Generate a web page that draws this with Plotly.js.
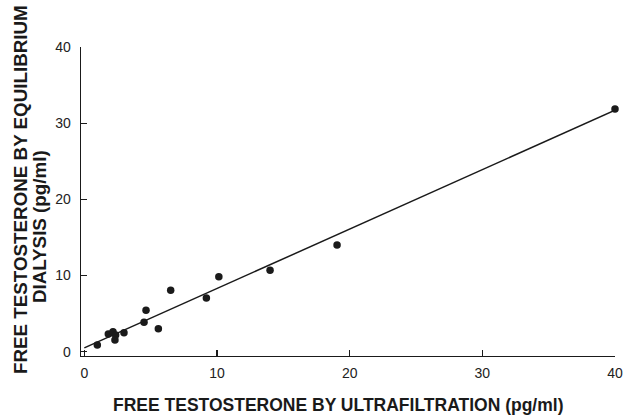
<!DOCTYPE html>
<html>
<head>
<meta charset="utf-8">
<script src="https://cdn.plot.ly/plotly-3.0.1.min.js"></script>
<style>html,body{margin:0;padding:0;background:#fff;}#chart{width:628px;height:415px;}</style>
</head>
<body>
<div id="chart"></div>
<script>
// Measured points: free testosterone (pg/ml)
var ultrafiltration = [0.98, 1.81, 2.16, 2.36, 2.31, 2.99, 4.5, 4.65, 5.58, 6.51, 9.2, 10.14, 14.0, 19.05, 40.0];
var equilibriumDialysis = [0.88, 2.32, 2.62, 2.19, 1.54, 2.5, 3.86, 5.43, 3.02, 8.06, 7.05, 9.84, 10.7, 14.0, 31.85];
// Regression line end points
var fitX = [0, 40];
var fitY = [0.5, 31.7];
var tickVals = [0, 10, 20, 30, 40];
var tickText = ['0', '10', '20', '30', '40'];

var ink = '#1a1a1a';
var data = [
  {x: fitX, y: fitY, type: 'scatter', mode: 'lines', line: {color: ink, width: 1.5}, hoverinfo: 'skip', showlegend: false, cliponaxis: false},
  {x: ultrafiltration, y: equilibriumDialysis, type: 'scatter', mode: 'markers', marker: {color: ink, size: 7.5}, showlegend: false, cliponaxis: false}
];
var axisCommon = {
  showgrid: false, zeroline: false, showline: true, linecolor: ink, linewidth: 1.3,
  ticks: 'inside', ticklen: 6, tickwidth: 1.2, tickcolor: ink,
  tickvals: tickVals, ticktext: tickText,
  tickfont: {family: 'Liberation Sans, Arial, sans-serif', size: 14, color: '#222'},
  mirror: false, fixedrange: true
};
var layout = {
  width: 628, height: 415,
  margin: {l: 81, r: 13, t: 47, b: 59},
  paper_bgcolor: '#fff', plot_bgcolor: '#fff',
  xaxis: Object.assign({}, axisCommon, {range: [-0.25, 40], ticklabelstandoff: 4}),
  yaxis: Object.assign({}, axisCommon, {range: [-0.56, 40], ticklabelstandoff: 6}),
  annotations: [
    {text: 'FREE TESTOSTERONE BY ULTRAFILTRATION (pg/ml)', xref: 'paper', yref: 'paper', x: 0, y: 0,
     xanchor: 'center', yanchor: 'middle', xshift: 337.5 - 81, yshift: -(405 - 356), showarrow: false,
     font: {family: 'Liberation Sans, Arial, sans-serif', size: 17.5, color: ink, weight: 'bold'}},
    {text: 'FREE TESTOSTERONE BY EQUILIBRIUM', xref: 'paper', yref: 'paper', x: 0, y: 0, textangle: -90,
     xanchor: 'center', yanchor: 'middle', xshift: 20 - 81, yshift: 356 - 190, showarrow: false,
     font: {family: 'Liberation Sans, Arial, sans-serif', size: 18.8, color: ink, weight: 'bold'}},
    {text: 'DIALYSIS (pg/ml)', xref: 'paper', yref: 'paper', x: 0, y: 0, textangle: -90,
     xanchor: 'center', yanchor: 'middle', xshift: 39 - 81, yshift: 356 - 227, showarrow: false,
     font: {family: 'Liberation Sans, Arial, sans-serif', size: 18.8, color: ink, weight: 'bold'}}
  ]
};
Plotly.newPlot('chart', data, layout, {displayModeBar: false, staticPlot: true});
</script>
</body>
</html>
